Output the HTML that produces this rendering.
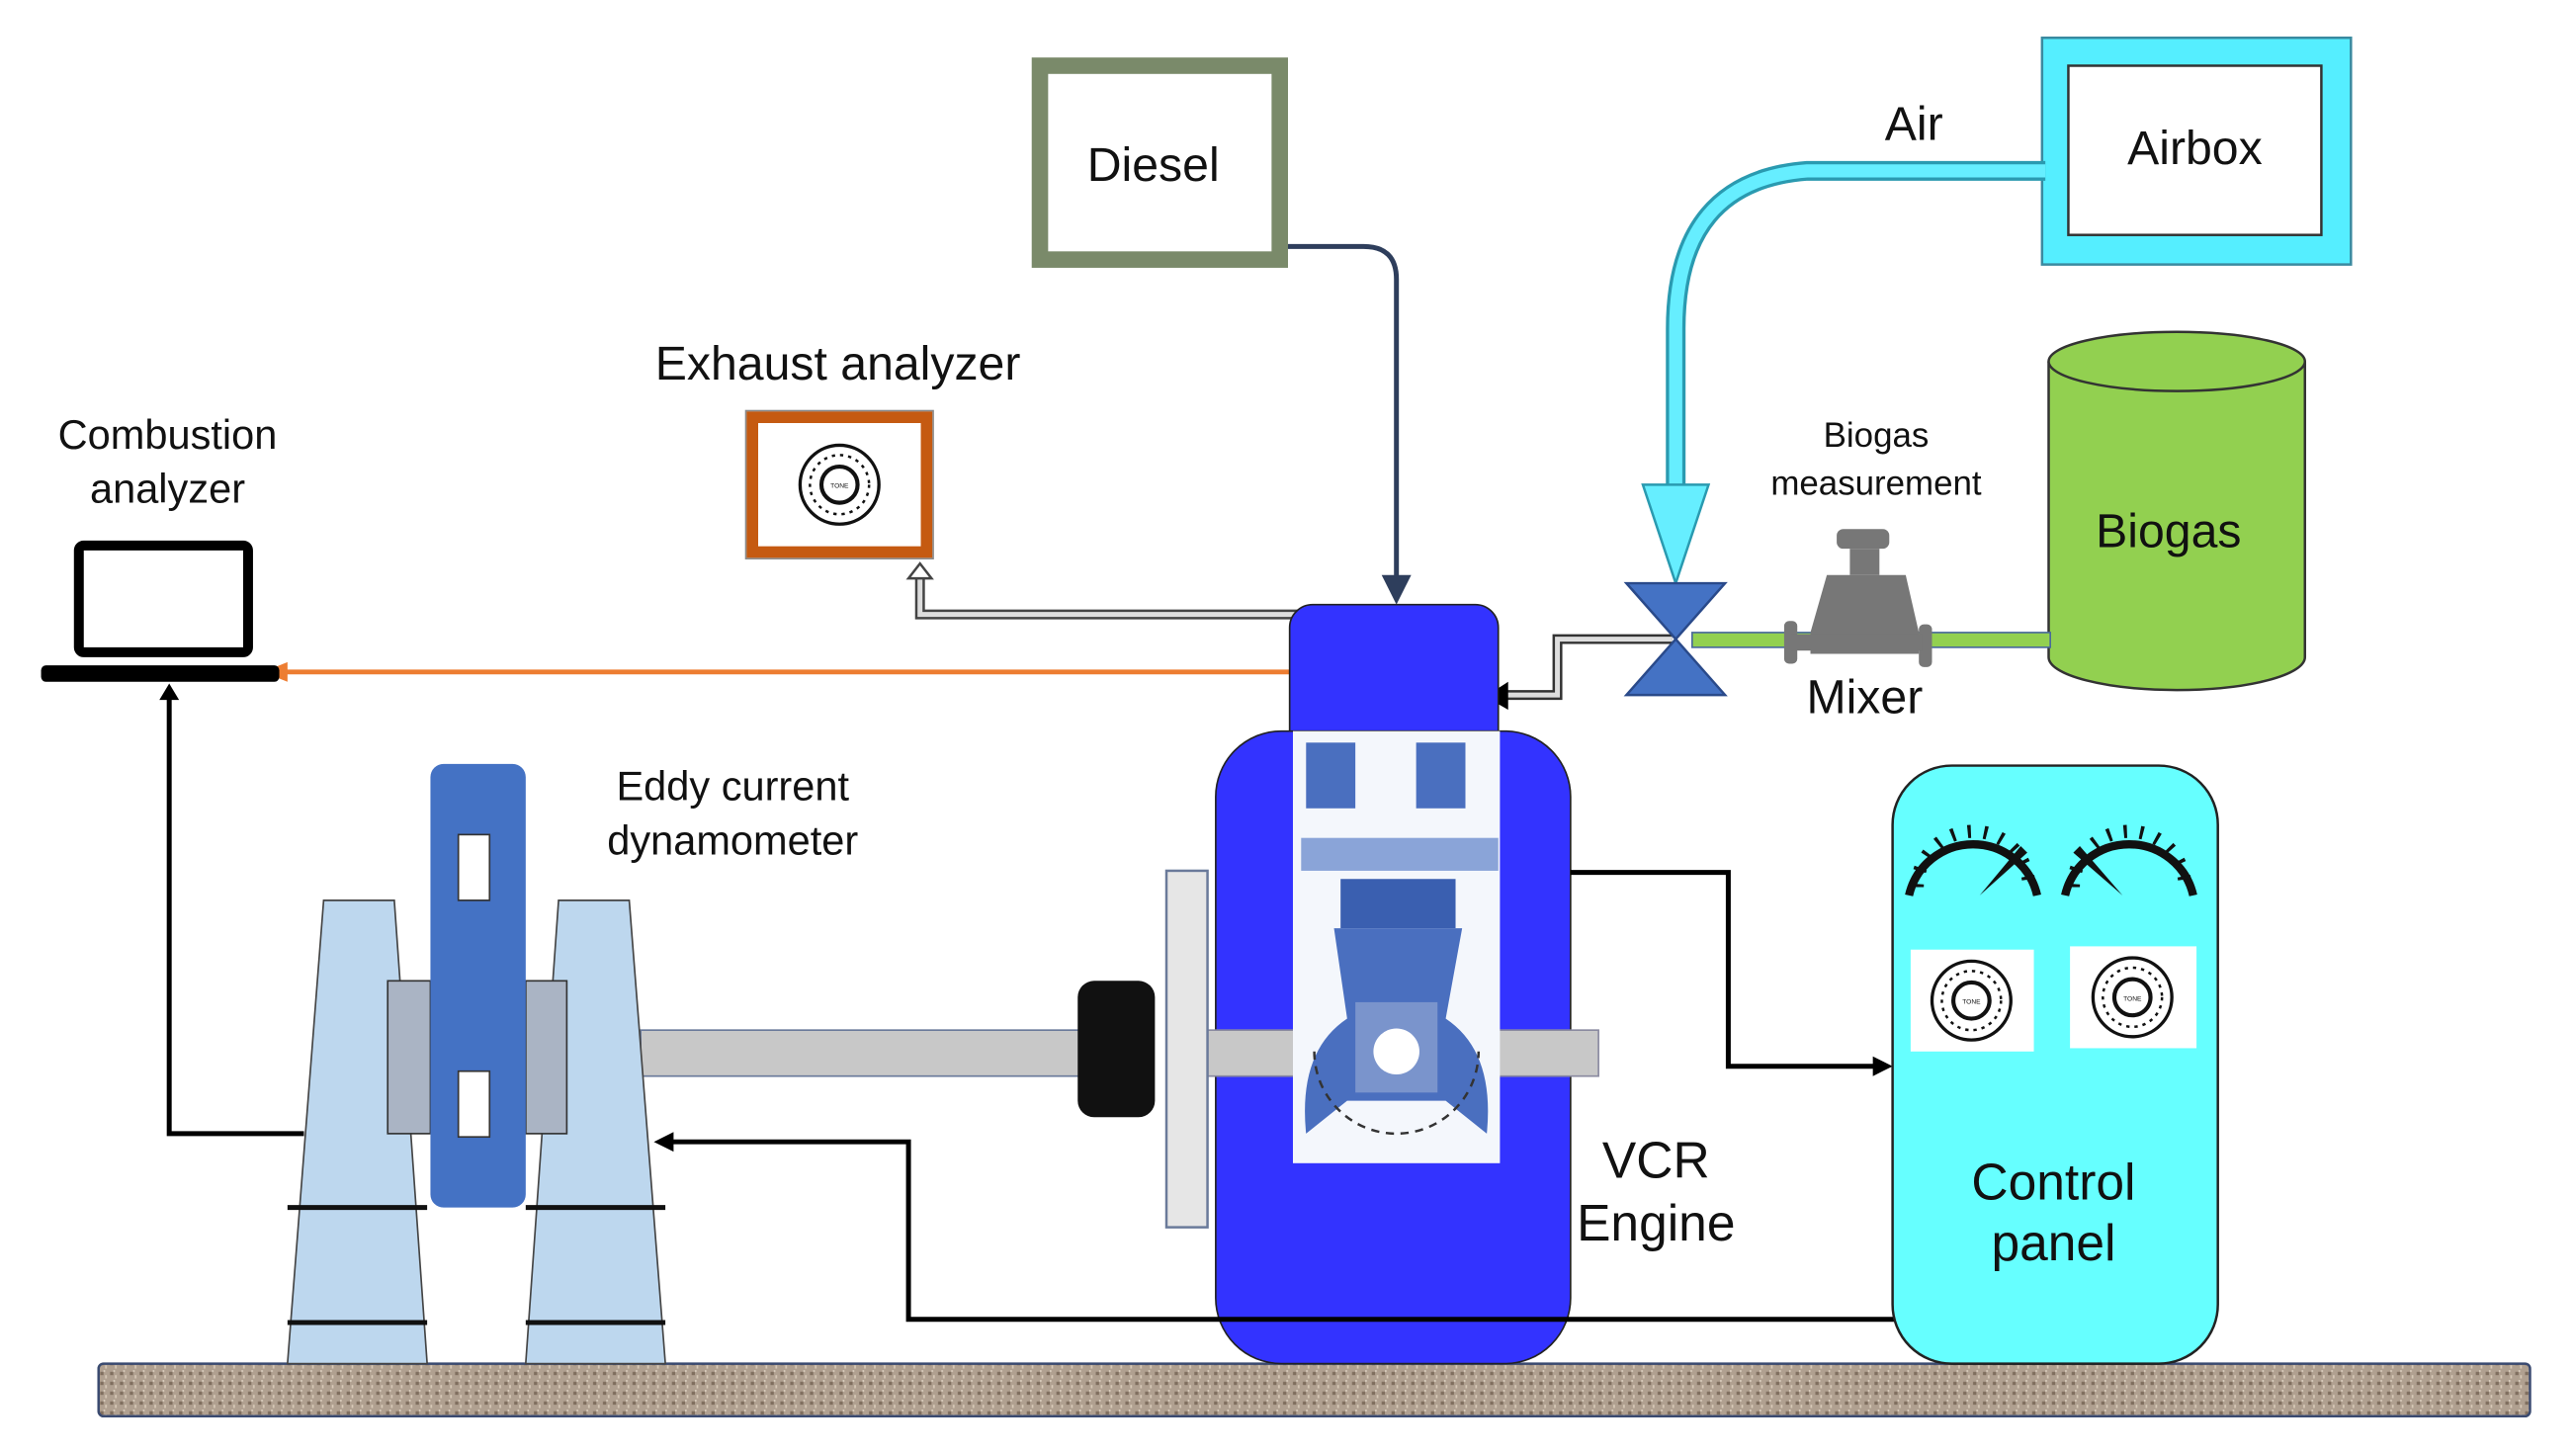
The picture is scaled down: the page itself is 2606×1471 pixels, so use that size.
<!DOCTYPE html>
<html><head><meta charset="utf-8"><style>html,body{margin:0;padding:0;background:#fff}svg{display:block}text{font-family:"Liberation Sans",sans-serif;fill:#111}</style></head>
<body>
<svg width="2606" height="1471" viewBox="0 0 1568 885" preserveAspectRatio="none" xmlns="http://www.w3.org/2000/svg">
<defs>
<pattern id="gr" width="6" height="6" patternUnits="userSpaceOnUse"><rect width="6" height="6" fill="#b0a090"/><rect x="1" y="1" width="2" height="2" fill="#7f6e5e"/><rect x="4" y="3" width="1" height="2" fill="#d8cab8"/><rect x="3" y="0" width="1" height="1" fill="#e0d4c4"/></pattern>
<g id="dial"><circle r="24" fill="#fff" stroke="#111" stroke-width="2"/><circle r="18" fill="none" stroke="#111" stroke-width="1.5" stroke-dasharray="2 3"/><circle r="11" fill="#fff" stroke="#111" stroke-width="2.5"/><text y="2" font-size="4" text-anchor="middle">TONE</text></g>
</defs>
<rect x="60" y="830" width="1480" height="32" rx="3" fill="url(#gr)" stroke="#3a4a70" stroke-width="1.5"/>
<rect x="633" y="40" width="146" height="118" fill="#fff" stroke="#7a8a6a" stroke-width="10"/>
<text x="702" y="110" font-size="29" text-anchor="middle">Diesel</text>
<path d="M784 150 H830 Q850 150 850 170 V355" fill="none" stroke="#2e3e5c" stroke-width="3"/>
<polygon points="841,350 859,350 850,368" fill="#2e3e5c"/>
<rect x="1243" y="23" width="188" height="138" fill="#55eeff" stroke="#3a8aa0" stroke-width="1.5"/>
<rect x="1259" y="40" width="154" height="103" fill="#fff" stroke="#333" stroke-width="1.5"/>
<text x="1336" y="100" font-size="29" text-anchor="middle">Airbox</text>
<text x="1165" y="85" font-size="29" text-anchor="middle">Air</text>
<path d="M1245 104 H1100 Q1020 110 1020 200 V300" fill="none" stroke="#2a9ab0" stroke-width="12"/>
<path d="M1245 104 H1100 Q1020 110 1020 200 V302" fill="none" stroke="#66eeff" stroke-width="8"/>
<polygon points="1000,295 1040,295 1020,355" fill="#66eeff" stroke="#2a9ab0" stroke-width="1.5"/>
<path d="M1247 220 V400 A78 20 0 0 0 1403 400 V220" fill="#92d050" stroke="#333" stroke-width="1.5"/>
<ellipse cx="1325" cy="220" rx="78" ry="18" fill="#92d050" stroke="#333" stroke-width="1.5"/>
<text x="1320" y="333" font-size="29" text-anchor="middle">Biogas</text>
<text x="1142" y="272" font-size="21" text-anchor="middle">Biogas</text>
<text x="1142" y="301" font-size="21" text-anchor="middle">measurement</text>
<rect x="1030" y="385" width="218" height="9" fill="#92d050" stroke="#4a6a9a" stroke-width="1"/>
<g fill="#777">
<rect x="1118" y="322" width="32" height="12" rx="4"/><rect x="1126" y="334" width="18" height="16"/>
<path d="M1112 350 H1160 L1168 385 V398 H1102 V385 Z"/>
<rect x="1086" y="378" width="8" height="26" rx="3"/><rect x="1168" y="380" width="8" height="26" rx="3"/>
<rect x="1090" y="386" width="80" height="10"/>
</g>
<text x="1135" y="434" font-size="29" text-anchor="middle">Mixer</text>
<path d="M1018 389 H948 V423 H912" fill="none" stroke="#333" stroke-width="6"/>
<path d="M1018 389 H948 V423 H912" fill="none" stroke="#ddd" stroke-width="3"/>
<polygon points="918,415 918,432 904,424" fill="#000"/>
<polygon points="990,355 1050,355 1020,389" fill="#4472c4" stroke="#2a4a8a" stroke-width="1.5"/>
<polygon points="990,423 1050,423 1020,389" fill="#4472c4" stroke="#2a4a8a" stroke-width="1.5"/>
<text x="510" y="231" font-size="29" text-anchor="middle">Exhaust analyzer</text>
<rect x="454" y="250" width="114" height="90" fill="#fff" stroke="#888" stroke-width="1"/>
<rect x="458" y="254" width="106" height="82" fill="#fff" stroke="#c55a11" stroke-width="7"/>
<use href="#dial" x="511" y="295"/>
<path d="M790 374 H560 V350" fill="none" stroke="#444" stroke-width="6"/>
<path d="M790 374 H560 V350" fill="none" stroke="#ddd" stroke-width="3"/>
<polygon points="553,352 567,352 560,343" fill="#fff" stroke="#444" stroke-width="1.5"/>
<line x1="785" y1="409" x2="172" y2="409" stroke="#ed7d31" stroke-width="3"/>
<polygon points="175,403 175,415 160,409" fill="#ed7d31"/>
<text x="102" y="273" font-size="25" text-anchor="middle">Combustion</text>
<text x="102" y="306" font-size="25" text-anchor="middle">analyzer</text>
<rect x="48" y="332" width="103" height="65" rx="3" fill="#fff" stroke="#000" stroke-width="6"/>
<rect x="25" y="405" width="145" height="10" rx="3" fill="#000"/>
<path d="M103 425 V690 H185" fill="none" stroke="#000" stroke-width="3"/>
<polygon points="97,426 109,426 103,416" fill="#000"/>
<rect x="785" y="368" width="127" height="100" rx="14" fill="#3333ff" stroke="#222" stroke-width="1"/>
<rect x="740" y="445" width="216" height="385" rx="40" fill="#3333ff" stroke="#222" stroke-width="1"/>
<rect x="735" y="627" width="238" height="28" fill="#c8c8c8" stroke="#8a8aa0" stroke-width="1"/>
<rect x="787" y="445" width="126" height="263" fill="#f4f7fc"/>
<g fill="#4a6fbf">
<rect x="795" y="452" width="30" height="40"/><rect x="862" y="452" width="30" height="40"/>
<rect x="792" y="510" width="120" height="20" fill="#8aa4d8"/>
<rect x="816" y="535" width="70" height="30" fill="#3a5fb0"/>
<path d="M812 565 H890 L880 620 Q910 640 905 690 L880 670 H820 L795 690 Q790 640 820 620 Z"/>
<rect x="825" y="610" width="50" height="55" fill="#7a94cc"/>
</g>
<circle cx="850" cy="640" r="14" fill="#fff"/>
<path d="M800 640 A50 50 0 0 0 900 640" fill="none" stroke="#333" stroke-width="1.5" stroke-dasharray="5 4"/>
<text x="1008" y="717" font-size="31" text-anchor="middle">VCR</text>
<text x="1008" y="755" font-size="31" text-anchor="middle">Engine</text>
<rect x="390" y="627" width="268" height="28" fill="#c8c8c8" stroke="#6a7a9a" stroke-width="1"/>
<rect x="656" y="597" width="47" height="83" rx="10" fill="#111"/>
<rect x="710" y="530" width="25" height="217" fill="#e6e6e6" stroke="#6a7a9a" stroke-width="1.5"/>
<text x="446" y="487" font-size="25" text-anchor="middle">Eddy current</text>
<text x="446" y="520" font-size="25" text-anchor="middle">dynamometer</text>
<polygon points="197,548 240,548 260,830 175,830" fill="#bdd7ee" stroke="#444" stroke-width="1"/>
<polygon points="340,548 383,548 405,830 320,830" fill="#bdd7ee" stroke="#444" stroke-width="1"/>
<line x1="175" y1="735" x2="260" y2="735" stroke="#111" stroke-width="3"/><line x1="320" y1="735" x2="405" y2="735" stroke="#111" stroke-width="3"/>
<line x1="175" y1="805" x2="260" y2="805" stroke="#111" stroke-width="3"/><line x1="320" y1="805" x2="405" y2="805" stroke="#111" stroke-width="3"/>
<rect x="236" y="597" width="26" height="93" fill="#aab4c4" stroke="#333" stroke-width="1"/>
<rect x="320" y="597" width="25" height="93" fill="#aab4c4" stroke="#333" stroke-width="1"/>
<rect x="262" y="465" width="58" height="270" rx="8" fill="#4472c4"/>
<rect x="279" y="508" width="19" height="40" fill="#fff" stroke="#333" stroke-width="1"/>
<rect x="279" y="652" width="19" height="40" fill="#fff" stroke="#333" stroke-width="1"/>
<path d="M956 531 H1052 V649 H1142" fill="none" stroke="#000" stroke-width="3"/>
<polygon points="1140,643 1140,655 1152,649" fill="#000"/>
<path d="M1155 803 H553 V695 H408" fill="none" stroke="#000" stroke-width="3"/>
<polygon points="410,689 410,701 398,695" fill="#000"/>
<rect x="1152" y="466" width="198" height="364" rx="36" fill="#66ffff" stroke="#222" stroke-width="1.5"/>
<g fill="none" stroke="#111" stroke-width="5">
<path d="M1162 545 A40 40 0 0 1 1240 545"/><path d="M1257 545 A40 40 0 0 1 1335 545"/>
</g>
<g fill="none" stroke="#111" stroke-width="8" stroke-dasharray="2 8">
<path d="M1167 540 A34 34 0 0 1 1235 540"/><path d="M1262 540 A34 34 0 0 1 1330 540"/>
</g>
<polygon points="1205,545 1230,515 1234,519" fill="#111"/>
<polygon points="1292,545 1266,515 1262,519" fill="#111"/>
<rect x="1163" y="578" width="75" height="62" fill="#fff"/>
<rect x="1260" y="576" width="77" height="62" fill="#fff"/>
<use href="#dial" x="1200" y="609"/>
<use href="#dial" x="1298" y="607"/>
<text x="1250" y="730" font-size="31" text-anchor="middle">Control</text>
<text x="1250" y="767" font-size="31" text-anchor="middle">panel</text>
</svg>
</body></html>
